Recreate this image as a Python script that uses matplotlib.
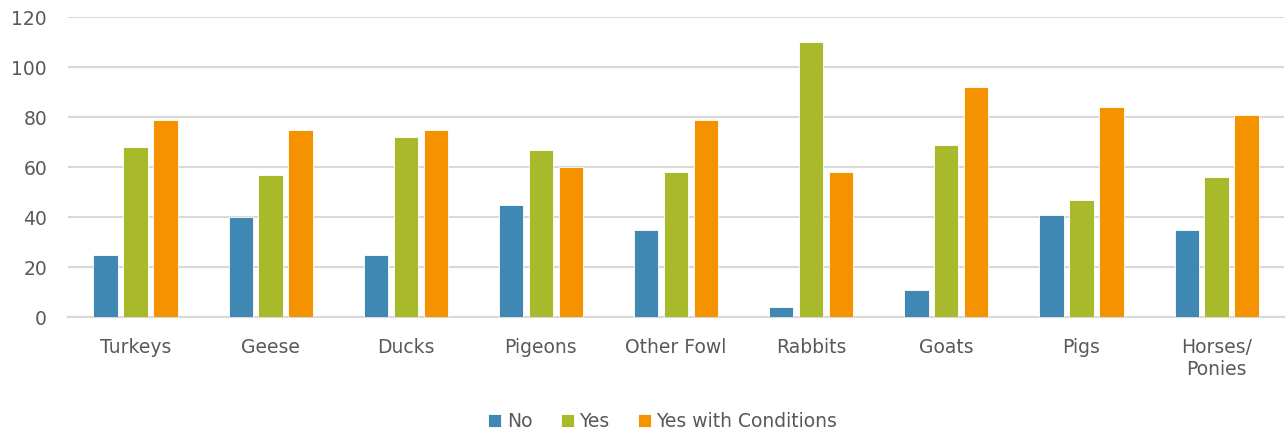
import matplotlib
matplotlib.use("Agg")
import matplotlib.pyplot as plt
import numpy as np

categories = ["Turkeys", "Geese", "Ducks", "Pigeons", "Other Fowl", "Rabbits", "Goats", "Pigs", "Horses/\nPonies"]
no_vals = [25, 40, 25, 45, 35, 4, 11, 41, 35]
yes_vals = [68, 57, 72, 67, 58, 110, 69, 47, 56]
cond_vals = [79, 75, 75, 60, 79, 58, 92, 84, 81]
series_names = ["No", "Yes", "Yes with Conditions"]
colors = ["#3F88B4", "#A8B92B", "#F59200"]

plt.rcParams['font.family'] = ['DejaVu Sans']
text_color = "#595959"

fig = plt.figure(figsize=(12.87, 4.32), dpi=100)
ax = fig.add_axes([0.0528, 0.266, 0.945, 0.6945])

x = np.arange(len(categories))
bw = 0.18
step = 0.2215
for i, (vals, name, c) in enumerate(zip([no_vals, yes_vals, cond_vals], series_names, colors)):
    ax.bar(x + (i - 1) * step, vals, width=bw, color=c, label=name,
           edgecolor="white", linewidth=0.6, zorder=3)

ax.set_xlim(-0.5, len(categories) - 0.5)
ax.set_ylim(0, 120)
ax.set_yticks(range(0, 121, 20))
ax.set_xticks(x)
ax.set_xticklabels(categories, linespacing=1.2)
ax.yaxis.grid(True, color="#D9D9D9", linewidth=1.5, zorder=0)
ax.set_axisbelow(True)
for s in ["top", "right", "left"]:
    ax.spines[s].set_visible(False)
ax.spines["bottom"].set_color("#D9D9D9")
ax.spines["bottom"].set_linewidth(1.5)
ax.tick_params(axis="both", length=0, labelsize=13.5, colors=text_color)
ax.tick_params(axis="x", pad=15)
ax.tick_params(axis="y", pad=15)

leg = fig.legend(loc="center", bbox_to_anchor=(0.515, 0.025), ncol=3, frameon=False,
                 fontsize=13.5, handlelength=0.7, handleheight=0.7, handletextpad=0.3,
                 columnspacing=1.5)
for t in leg.get_texts():
    t.set_color(text_color)

fig.savefig("out.png", dpi=100)
